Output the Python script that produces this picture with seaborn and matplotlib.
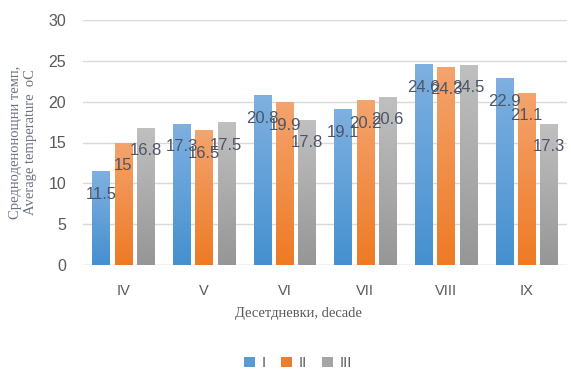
import numpy as np
import pandas as pd
import matplotlib
matplotlib.use("Agg")
import matplotlib.pyplot as plt
import seaborn as sns
from matplotlib.colors import LinearSegmentedColormap
from matplotlib.patches import Patch

categories = ["IV", "V", "VI", "VII", "VIII", "IX"]
series_names = ["I", "II", "III"]
values_I = [11.5, 17.3, 20.8, 19.1, 24.6, 22.9]
values_II = [15, 16.5, 19.9, 20.2, 24.3, 21.1]
values_III = [16.8, 17.5, 17.8, 20.6, 24.5, 17.3]
yticks = [0, 5, 10, 15, 20, 25, 30]

colors = ["#5b9bd5", "#ed7d31", "#a5a5a5"]
grad_top = ["#7fb0e0", "#f4a46e", "#c0c0c0"]
grad_bot = ["#4590cf", "#ee7a24", "#969696"]

df = pd.DataFrame({
    "cat": categories * 3,
    "series": [s for s in series_names for _ in categories],
    "val": values_I + values_II + values_III,
})

sns.set_theme(style="white")
plt.rcParams["font.family"] = ["Liberation Sans", "DejaVu Sans"]

fig = plt.figure(figsize=(5.71, 3.71), dpi=100)
ax = fig.add_axes([83 / 571, 1 - 265 / 371, (567 - 83) / 571, (265 - 20) / 371])

sns.barplot(data=df, x="cat", y="val", hue="series", order=categories,
            hue_order=series_names, palette=colors, width=0.83, gap=0.22,
            legend=False, ax=ax, zorder=3, edgecolor="none")

ax.set_ylim(0, 30)
ax.set_yticks(yticks)
ax.yaxis.grid(True, color="#d9d9d9", linewidth=1, zorder=0)
ax.set_axisbelow(True)
for s in ax.spines.values():
    s.set_visible(False)
ax.axhline(0, color="#d9d9d9", linewidth=1, zorder=1)

# gradient fill clipped to each bar
for ci, cont in enumerate(ax.containers):
    cmap = LinearSegmentedColormap.from_list(f"g{ci}", [grad_bot[ci], grad_top[ci]])
    grad = np.linspace(0, 1, 256).reshape(-1, 1)
    for p in cont.patches:
        x0, y0 = p.get_x(), p.get_y()
        w, h = p.get_width(), p.get_height()
        p.set_facecolor("none")
        im = ax.imshow(grad, cmap=cmap, origin="lower", aspect="auto",
                       extent=[x0, x0 + w, y0, y0 + h], zorder=3)
        im.set_clip_path(p)
        p.set_edgecolor("none")
    ax.bar_label(cont, labels=[f"{v:g}" for v in cont.datavalues],
                 padding=-22, color="#4a5568", fontsize=12, zorder=5,
                 family=["Liberation Sans", "DejaVu Sans"])

ax.set_xlim(-0.5, len(categories) - 0.5)
ax.set_xlabel("")
ax.set_ylabel("Средноденонощни темп,\nAverage temperature  oC",
              family=["Liberation Serif", "DejaVu Serif"], fontsize=10.5,
              color="#6b7280", labelpad=8, linespacing=1.2)
ax.tick_params(axis="x", length=0, pad=14, labelsize=10.5, labelcolor="#595959")
ax.tick_params(axis="y", length=0, pad=12, labelsize=11.5, labelcolor="#595959")

fig.text(298 / 571, 1 - 313 / 371, "Десетдневки, decade",
         family=["Liberation Serif", "DejaVu Serif"], fontsize=10.5,
         color="#595959", ha="center", va="center")

handles = [Patch(facecolor=c, edgecolor="none") for c in colors]
fig.legend(handles, series_names, loc="center", bbox_to_anchor=(298 / 571, 1 - 363 / 371),
           ncol=3, frameon=False, fontsize=10.5, labelcolor="#595959",
           handlelength=0.75, handleheight=0.75, handletextpad=0.5, columnspacing=1.0)

fig.savefig("out.png", dpi=100, facecolor="white")
